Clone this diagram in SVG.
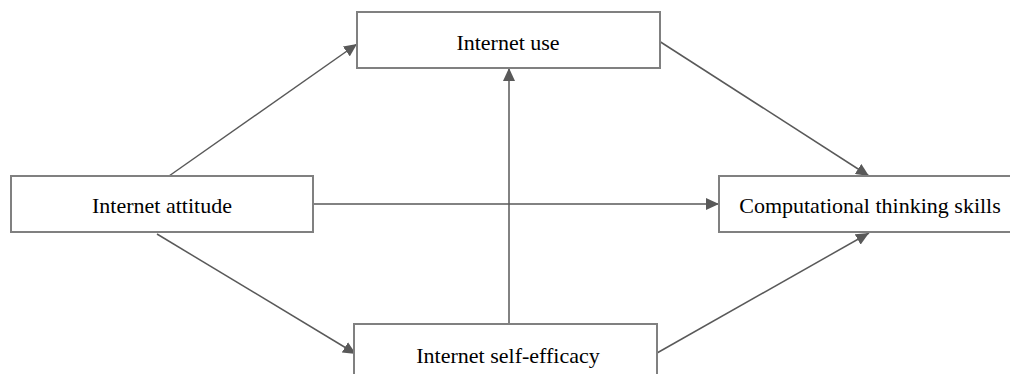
<svg xmlns="http://www.w3.org/2000/svg" width="1010" height="374" viewBox="0 0 1010 374">
<style>
.box{fill:#ffffff;stroke:#808080;stroke-width:2}
.lbl{font-family:"Liberation Serif","Times New Roman",serif;font-size:22px;fill:#000;text-anchor:middle}
.edge{stroke:#595959;stroke-width:1.5;fill:none;marker-end:url(#ah)}
</style>
<defs>
<marker id="ah" markerUnits="userSpaceOnUse" markerWidth="14" markerHeight="12" refX="13" refY="6" orient="auto">
<path d="M0,0 L13,6 L0,12 Z" fill="#595959"/>
</marker>
</defs>
<rect width="1010" height="374" fill="#ffffff"/>
<g id="connectors">
<line class="edge" x1="169" y1="176" x2="357" y2="44"/>
<line class="edge" x1="659" y1="41" x2="869" y2="176"/>
<line class="edge" x1="313" y1="204" x2="719" y2="204"/>
<line class="edge" x1="157" y1="234" x2="356" y2="354"/>
<line class="edge" x1="509" y1="324" x2="509" y2="68"/>
<line class="edge" x1="657" y1="353" x2="869" y2="233"/>
</g>
<g id="internet-use">
<rect class="box" x="357" y="12" width="303" height="56"/>
<text class="lbl" x="508" y="50">Internet use</text>
</g>
<g id="internet-attitude">
<rect class="box" x="11" y="176" width="302" height="56"/>
<text class="lbl" x="162" y="213">Internet attitude</text>
</g>
<g id="computational-thinking">
<rect class="box" x="719" y="176" width="310" height="56"/>
<text class="lbl" x="870" y="213">Computational thinking skills</text>
</g>
<g id="internet-self-efficacy">
<rect class="box" x="354" y="324" width="303" height="60"/>
<text class="lbl" x="508" y="363">Internet self-efficacy</text>
</g>
</svg>
